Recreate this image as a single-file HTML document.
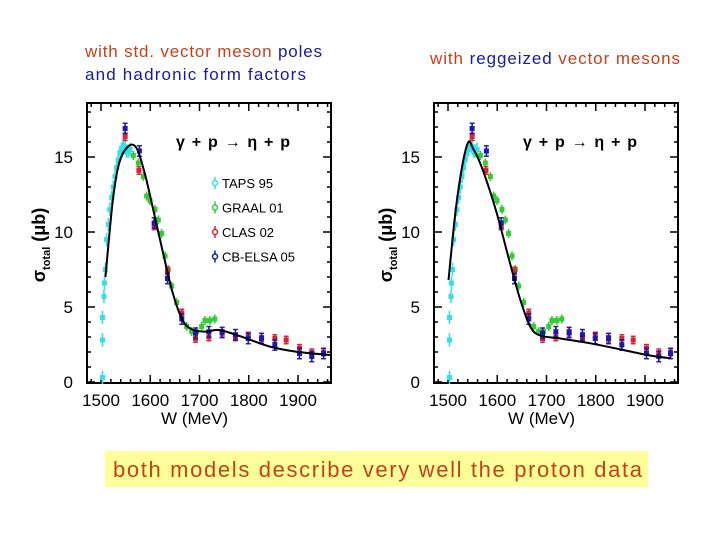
<!DOCTYPE html>
<html><head><meta charset="utf-8"><style>
html,body{margin:0;padding:0;background:#fff;width:720px;height:540px;overflow:hidden}
svg{display:block}
</style></head><body>
<svg id="s" width="720" height="540" xmlns="http://www.w3.org/2000/svg" font-family="Liberation Sans, sans-serif">
<g font-size="17">
<text x="85" y="57" textLength="237" lengthAdjust="spacing"><tspan fill="#c8401a">with std. vector meson </tspan><tspan fill="#1a1aa0">poles</tspan></text>
<text x="85" y="80" fill="#1a1aa0" textLength="221" lengthAdjust="spacing">and hadronic form factors</text>
</g>
<g font-size="17">
<text x="430" y="64" textLength="250" lengthAdjust="spacing"><tspan fill="#c8401a">with </tspan><tspan fill="#1a1aa0">reggeized </tspan><tspan fill="#c8401a">vector mesons</tspan></text>
</g>
<rect x="105" y="451" width="543" height="36" fill="#ffff99"/>
<text x="113" y="477" textLength="529" lengthAdjust="spacing" font-size="22" fill="#c8401a">both models describe very well the proton data</text>
<g id="left"></g>
<g id="right"></g>
</svg>
<script>
const tapsW=[1503,1503,1503,1506,1507,1509,1511.5,1515,1518,1521.7,1525,1528.4,1531.8,1535,1538.6,1542,1545,1549,1552,1555.5,1559];
const tapsV=[0.3,2.8,4.3,5.7,6.6,7.5,9.5,10.5,11.5,12.3,13.0,13.7,14.3,14.8,15.3,15.5,15.8,15.6,15.4,15.4,15.5];
const graalW=[1565.6,1575.8,1586,1592.7,1599.5,1609.6,1616.4,1623,1630,1636.7,1643.5,1653.6,1663.8,1674,1684,1694,1704.5,1711,1721,1731];
const graalV=[15.1,14.6,13.7,12.4,12.1,11.5,10.8,9.9,8.4,7.5,6.4,5.3,4.4,3.7,3.36,3.36,3.7,4.1,4.1,4.2];
const clasW=[1549,1577,1608,1635,1664,1692,1719,1746,1773,1799,1826,1853,1876,1903,1928,1952];
const clasV=[16.35,14.1,10.4,7.4,4.6,2.9,3.0,3.25,3.0,3.07,2.85,2.9,2.8,2.25,1.95,2.0];
const elsaW=[1549,1578,1608,1635,1664,1692,1719,1746,1773,1799,1826,1853,1903,1928,1952];
const elsaV=[16.9,15.4,10.6,6.9,4.2,3.25,3.35,3.3,3.15,2.9,2.9,2.47,1.9,1.7,1.9];
const curveLW=[1509,1524,1537,1555,1572,1589,1606,1626,1646,1666,1687,1714,1734,1754,1795,1843,1897,1965];
const curveLV=[7.0,12.1,14.6,15.7,15.6,13.9,11.5,8.6,5.9,4.1,3.47,3.36,3.47,3.36,2.91,2.36,2.02,1.8];
const curveRW=[1501,1518,1538.6,1552,1572,1599.5,1626,1646.7,1667,1687,1728,1789,1857,1904,1952];
const curveRV=[6.8,12.1,15.8,15.5,14.0,11.2,7.9,5.5,3.7,3.1,2.9,2.58,2.13,1.8,1.58];
const xTicks=[1500,1600,1700,1800,1900];
const yTicks=[0,5,10,15];
const NS='http://www.w3.org/2000/svg';
function mk(p,t,a){const e=document.createElementNS(NS,t);for(const k in a)e.setAttribute(k,a[k]);p.appendChild(e);return e;}
function smooth(P){let d='M'+P[0][0].toFixed(1)+','+P[0][1].toFixed(1);
 for(let i=0;i<P.length-1;i++){const p0=P[i-1]||P[i],p1=P[i],p2=P[i+1],p3=P[i+2]||P[i+1];
  const c1=[p1[0]+(p2[0]-p0[0])/6,p1[1]+(p2[1]-p0[1])/6],c2=[p2[0]-(p3[0]-p1[0])/6,p2[1]-(p3[1]-p1[1])/6];
  d+=` C${c1[0].toFixed(1)},${c1[1].toFixed(1)} ${c2[0].toFixed(1)},${c2[1].toFixed(1)} ${p2[0].toFixed(1)},${p2[1].toFixed(1)}`;}
 return d;}
function chart(g,off,cW,cV){
 const X=w=>101+off+(w-1500)*0.4925, Y=v=>382-15*v;
 const L=87+off,R=331+off,T=103,B=383;
 const f=mk(g,'rect',{x:L,y:T,width:R-L,height:B-T,fill:'none',stroke:'#000','stroke-width':2});
 
 
 for(let v=0;v<=18;v++){const y=Y(v);if(y<T)break;const len=v%5==0?8:4;
  mk(g,'line',{x1:L,x2:L+len,y1:y,y2:y,stroke:'#000','stroke-width':1.5});
  mk(g,'line',{x1:R,x2:R-len,y1:y,y2:y,stroke:'#000','stroke-width':1.5});}
 for(let w=1460;w<=1960;w+=20){const x=X(w);if(x<L||x>R)continue;const len=w%100==0?8:4;
  mk(g,'line',{x1:x,x2:x,y1:B,y2:B-len,stroke:'#000','stroke-width':1.5});
  mk(g,'line',{x1:x,x2:x,y1:T,y2:T+len,stroke:'#000','stroke-width':1.5});}
 yTicks.forEach(v=>{const t=mk(g,'text',{x:L-14,y:Y(v)+6,'text-anchor':'end','font-size':17});t.textContent=v;
  
  });
 xTicks.forEach(w=>{const t=mk(g,'text',{x:X(w),y:406,'text-anchor':'middle','font-size':17});t.textContent=w;
  
  });
 const xt=mk(g,'text',{x:X(1690),y:424,'text-anchor':'middle','font-size':17});xt.textContent='W  (MeV)';
 
 
 const yt=mk(g,'text',{transform:`translate(${L-42},245) rotate(-90)`,'text-anchor':'middle','font-size':18,'font-weight':'bold'});
 yt.innerHTML='σ<tspan font-size="11" dy="5">total</tspan><tspan dy="-5"> (μb)</tspan>';
 
 
 const rx=mk(g,'text',{x:176+off,y:147,'font-size':16,'font-weight':'bold',textLength:114,lengthAdjust:'spacing'});rx.textContent='γ + p → η + p';
 
 
 function series(W,V,err,col,name,dense){const sg=mk(g,'g',{});
  
  
  W.forEach((w,i)=>{const x=X(w),y=Y(V[i]),e=err*15;
   mk(sg,'line',{x1:x,x2:x,y1:y-e,y2:y+e,stroke:col,'stroke-width':1.6});
   if(!dense){mk(sg,'line',{x1:x-2.5,x2:x+2.5,y1:y-e,y2:y-e,stroke:col,'stroke-width':1.4});
    mk(sg,'line',{x1:x-2.5,x2:x+2.5,y1:y+e,y2:y+e,stroke:col,'stroke-width':1.4});}
   mk(sg,'rect',{x:x-2.5,y:y-2.5,width:5,height:5,fill:col});});}
 series(tapsW,tapsV,0.45,'#33e0e8','taps-95-series',true);
 series(graalW,graalV,0.3,'#33cc33','graal-01-series',true);
 series(clasW,clasV,0.25,'#dd2233','clas-02-series',false);
 series(elsaW,elsaV,0.35,'#1a1ab0','cb-elsa-05-series',false);
 const c=mk(g,'path',{d:smooth(cW.map((w,i)=>[X(w),Y(cV[i])])),fill:'none',stroke:'#000','stroke-width':2,'stroke-linejoin':'round'});
 
 
}
chart(document.getElementById('left'),0,curveLW,curveLV);
chart(document.getElementById('right'),347,curveRW,curveRV);
const lg=document.getElementById('left');
const legNames=['TAPS 95','GRAAL 01','CLAS 02','CB-ELSA 05'],legCols=['#33e0e8','#33cc33','#dd2233','#1a1ab0'];
legNames.forEach((n,i)=>{const y=183+i*24.5;const e=mk(lg,'g',{});
 
 
 mk(e,'line',{x1:215,x2:215,y1:y-6,y2:y+6,stroke:legCols[i],'stroke-width':1.5});
 mk(e,'circle',{cx:215,cy:y,r:2.5,fill:'#fff',stroke:legCols[i],'stroke-width':1.5});
 const t=mk(e,'text',{x:222,y:y+5,'font-size':13});t.textContent=n;});
</script>
</body></html>
